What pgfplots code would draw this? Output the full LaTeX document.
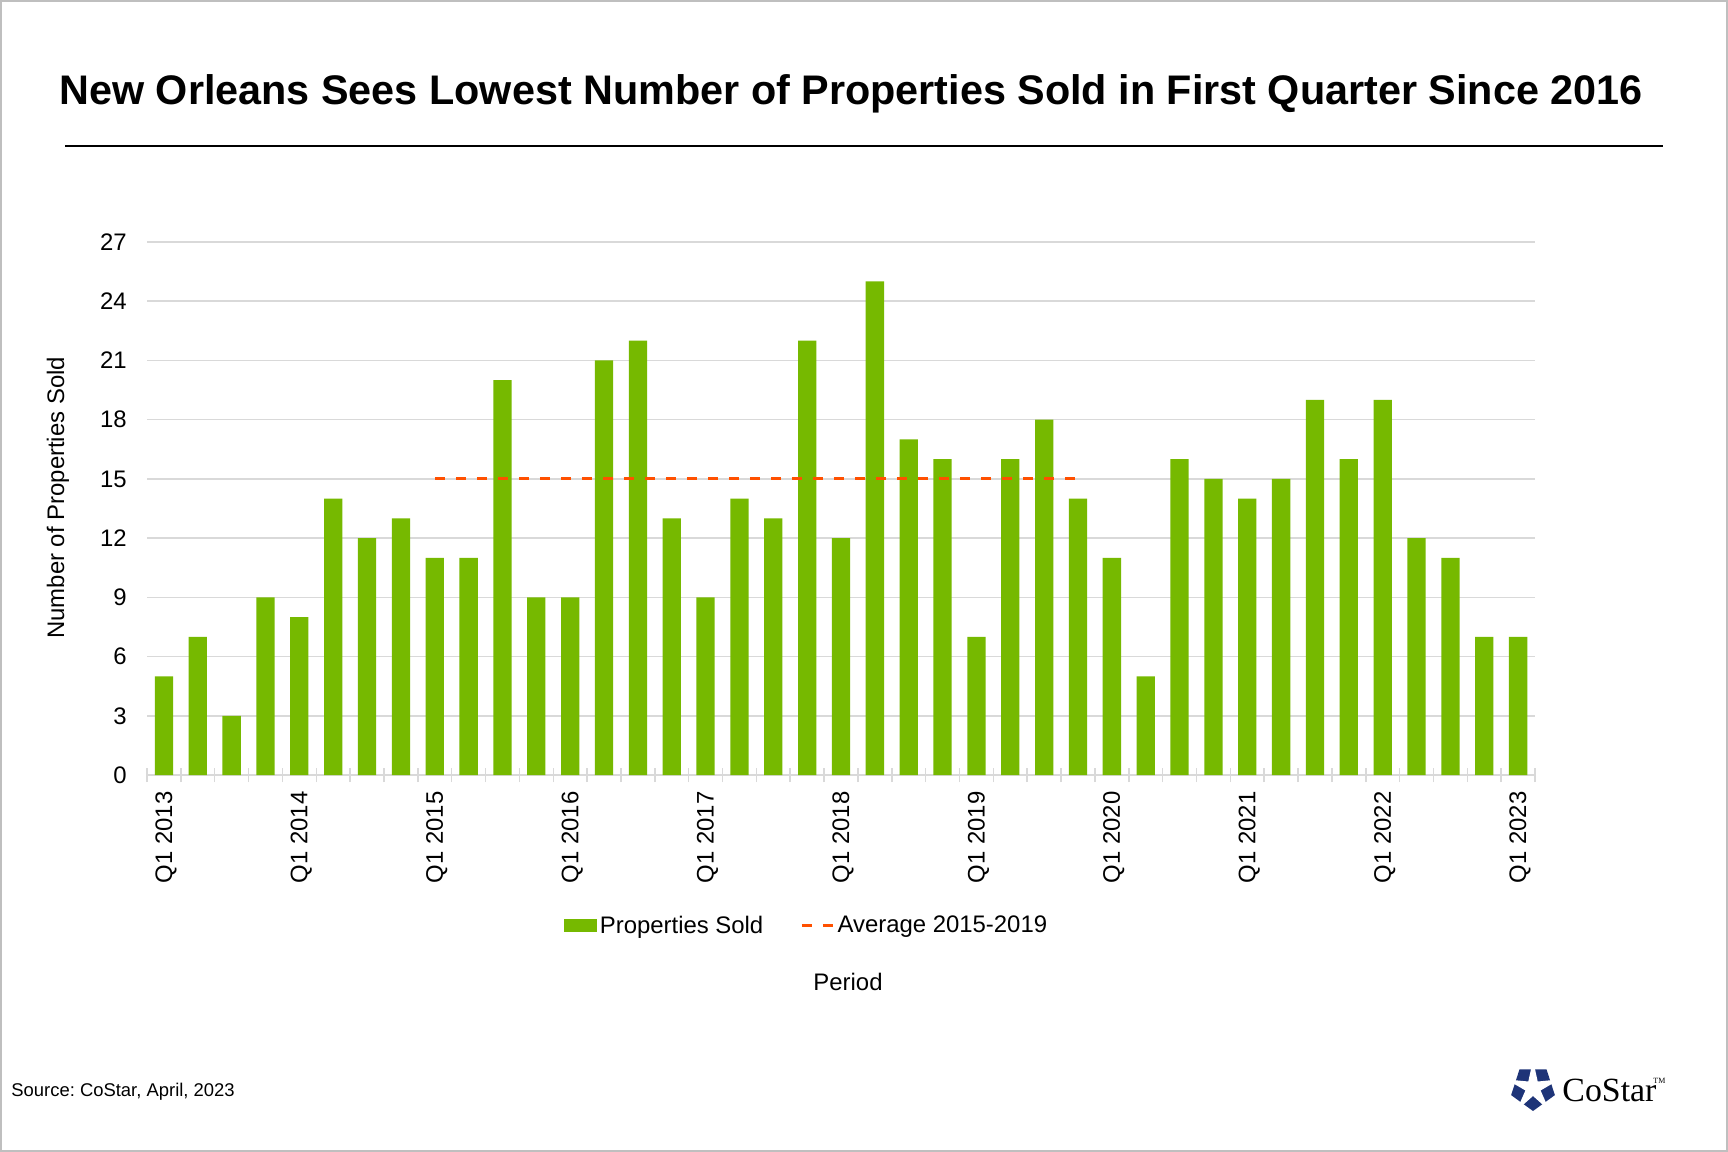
\documentclass[border=0pt]{standalone}
\usepackage{fontspec}
\setmainfont{Liberation Sans}
\newfontfamily\seriffont{Liberation Serif}
\usepackage{pgfplots}
\pgfplotsset{compat=1.18}
\frenchspacing
\definecolor{bargreen}{RGB}{118,185,0}
\definecolor{avgred}{RGB}{255,80,0}
\definecolor{gridgray}{RGB}{217,217,217}
\definecolor{framegray}{RGB}{191,191,191}
\definecolor{logoblue}{RGB}{30,52,120}
\begin{document}
\begin{tikzpicture}
\begin{scope}[x=0.5bp,y=-0.5bp]
\useasboundingbox (0,0) rectangle (1728,1152);
\fill[white] (0,0) rectangle (1728,1152);
\draw[framegray, line width=1bp] (1,1) rectangle (1727,1151);
\node[font=\bfseries\fontsize{20.75}{24}\selectfont, anchor=center, inner sep=0pt] at (851,94) {New Orleans Sees Lowest Number of Properties Sold in First Quarter Since 2016};
\draw[black, line width=1.2bp] (65,146) -- (1663,146);
\node[font=\fontsize{12}{14}\selectfont, inner sep=0pt] at (848,982) {Period};
\node[font=\fontsize{9.25}{11}\selectfont, anchor=west, inner sep=0pt] at (11,1092) {Source: CoStar, April, 2023};
% logo
\begin{scope}[shift={(1533,1088)}]
\fill[logoblue] (90:23) -- (162:23) -- (234:23) -- (306:23) -- (18:23) -- cycle;
\fill[white] (54:28) -- (90:8) -- (126:28) -- (162:8) -- (198:28) -- (234:8) -- (270:28) -- (306:8) -- (342:28) -- (18:8) -- cycle;
\end{scope}
\node[font=\seriffont\fontsize{17}{17}\selectfont, anchor=west, inner sep=0pt] at (1562,1090) {CoStar};
\node[font=\seriffont\fontsize{4}{4}\selectfont, anchor=west, inner sep=0pt] at (1653,1081) {TM};
\end{scope}
\begin{axis}[
  at={(73.5bp,-387.5bp)}, anchor=south west,
  scale only axis, width=694bp, height=266.5bp,
  xmin=-0.5, xmax=40.5, ymin=0, ymax=27,
  ytick={0,3,...,27},
  ymajorgrids, grid style={gridgray, line width=0.75bp},
  axis lines*=left,
  y axis line style={draw=none},
  x axis line style={gridgray, line width=0.75bp},
  ytick style={draw=none},
  tick align=inside,
  xtick={0,...,40},
  xticklabels={Q1 2013,,,,Q1 2014,,,,Q1 2015,,,,Q1 2016,,,,Q1 2017,,,,Q1 2018,,,,Q1 2019,,,,Q1 2020,,,,Q1 2021,,,,Q1 2022,,,,Q1 2023},
  major tick length=2bp,
  minor xtick={-0.5,0.5,...,40.5},
  minor tick length=7bp,
  x tick style={gridgray, line width=0.75bp},
  minor x tick style={yshift=-3.5bp},
  ticklabel style={font=\fontsize{12}{14}\selectfont},
  /pgf/number format/assume math mode=true,
  xticklabel style={xshift=1bp, rotate=90, anchor=east, inner sep=0pt},
  xticklabel shift=8bp,
  yticklabel style={anchor=east, inner sep=0pt},
  yticklabel shift=10bp,
  ylabel={Number of Properties Sold},
  ylabel style={at={(axis description cs:-0.0641,0.52)}, anchor=center, font=\fontsize{12}{14}\selectfont},
  legend columns=2,
  legend style={at={(axis description cs:0.4755,-0.283)}, anchor=center, draw=none, fill=none,
    font=\fontsize{12}{14}\selectfont, inner xsep=0pt,
    /tikz/every even column/.append style={column sep=17bp},
    nodes={inner xsep=1.5bp}},
]
\addplot[ybar, bar width=0.54, fill=bargreen, draw=none,
  legend image code/.code={\fill[bargreen] (0bp,-3.2bp) rectangle (16.5bp,3.2bp);}]
coordinates {
(0,5) (1,7) (2,3) (3,9) (4,8) (5,14) (6,12) (7,13) (8,11) (9,11)
(10,20) (11,9) (12,9) (13,21) (14,22) (15,13) (16,9) (17,14) (18,13) (19,22)
(20,12) (21,25) (22,17) (23,16) (24,7) (25,16) (26,18) (27,14) (28,11) (29,5)
(30,16) (31,15) (32,14) (33,15) (34,19) (35,16) (36,19) (37,12) (38,11) (39,7)
(40,7)
};
\addlegendentry{Properties Sold}
\addplot[avgred, line width=1.6bp, dash pattern=on 5bp off 5.5bp, mark=none,
  legend image code/.code={\draw[avgred, line width=1.6bp, dash pattern=on 5bp off 5.5bp] (0bp,0bp) -- (15.5bp,0bp);}]
coordinates {(8,15) (27,15)};
\addlegendentry{Average 2015-2019}
\end{axis}
\end{tikzpicture}
\end{document}
